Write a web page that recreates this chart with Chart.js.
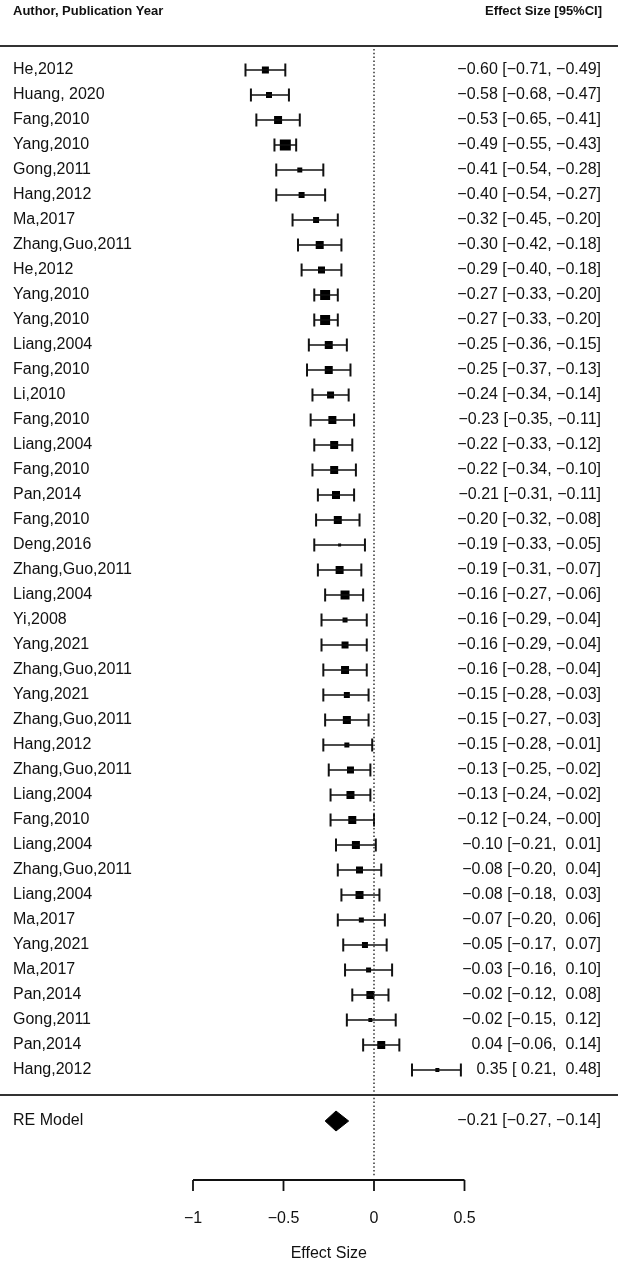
<!DOCTYPE html>
<html>
<head>
<meta charset="utf-8">
<title>Forest plot</title>
<script src="https://cdn.jsdelivr.net/npm/chart.js@4"></script>
<style>
  html, body { margin: 0; padding: 0; background: #fff; }
  #wrap { width: 618px; height: 1269px; }
</style>
</head>
<body>
<div id="wrap"><canvas id="forest"></canvas></div>
<script>
// study labels, top to bottom
const studies = [
  "He,2012", "Huang, 2020", "Fang,2010", "Yang,2010", "Gong,2011", "Hang,2012",
  "Ma,2017", "Zhang,Guo,2011", "He,2012", "Yang,2010", "Yang,2010", "Liang,2004",
  "Fang,2010", "Li,2010", "Fang,2010", "Liang,2004", "Fang,2010", "Pan,2014",
  "Fang,2010", "Deng,2016", "Zhang,Guo,2011", "Liang,2004", "Yi,2008", "Yang,2021",
  "Zhang,Guo,2011", "Yang,2021", "Zhang,Guo,2011", "Hang,2012", "Zhang,Guo,2011",
  "Liang,2004", "Fang,2010", "Liang,2004", "Zhang,Guo,2011", "Liang,2004",
  "Ma,2017", "Yang,2021", "Ma,2017", "Pan,2014", "Gong,2011", "Pan,2014", "Hang,2012"
];
const effect = [
  -0.60, -0.58, -0.53, -0.49, -0.41, -0.40, -0.32, -0.30, -0.29, -0.27, -0.27, -0.25,
  -0.25, -0.24, -0.23, -0.22, -0.22, -0.21, -0.20, -0.19, -0.19, -0.16, -0.16, -0.16,
  -0.16, -0.15, -0.15, -0.15, -0.13, -0.13, -0.12, -0.10, -0.08, -0.08, -0.07, -0.05,
  -0.03, -0.02, -0.02, 0.04, 0.35
];
const ciLow = [
  -0.71, -0.68, -0.65, -0.55, -0.54, -0.54, -0.45, -0.42, -0.40, -0.33, -0.33, -0.36,
  -0.37, -0.34, -0.35, -0.33, -0.34, -0.31, -0.32, -0.33, -0.31, -0.27, -0.29, -0.29,
  -0.28, -0.28, -0.27, -0.28, -0.25, -0.24, -0.24, -0.21, -0.20, -0.18, -0.20, -0.17,
  -0.16, -0.12, -0.15, -0.06, 0.21
];
const ciHigh = [
  -0.49, -0.47, -0.41, -0.43, -0.28, -0.27, -0.20, -0.18, -0.18, -0.20, -0.20, -0.15,
  -0.13, -0.14, -0.11, -0.12, -0.10, -0.11, -0.08, -0.05, -0.07, -0.06, -0.04, -0.04,
  -0.04, -0.03, -0.03, -0.01, -0.02, -0.02, -0, 0.01, 0.04, 0.03, 0.06, 0.07,
  0.10, 0.08, 0.12, 0.14, 0.48
];
// study weight, shown as square size
const weights = [
  7, 6, 8, 11, 5, 6, 6, 8, 7, 10, 10, 8, 8, 7, 8, 8, 8, 8, 8, 3, 8,
  9, 5, 7, 8, 6, 8, 5, 7, 8, 8, 8, 7, 8, 5, 6, 5, 8, 4, 8, 4
];
// pooled random-effects estimate
const pooledLabel = "RE Model";
const pooled = [-0.21, -0.27, -0.14];
const xTicks = [-1, -0.5, 0, 0.5];
const xTitle = "Effect Size";
const headLeft = "Author, Publication Year";
const headRight = "Effect Size [95%CI]";

// row layout (y in row units, 0 = first study)
const poolRow = 42.04;
const axisRow = 44.4;
const tickLen = 0.44;
const ink = "#111";

function fmt(v, pad) {
  const neg = v < 0 || Object.is(v, -0);
  return (neg ? "\u2212" : pad ? " " : "") + Math.abs(v).toFixed(2);
}
function ciText(e, lo, hi) {
  return fmt(e, false) + " [" + fmt(lo, true) + ", " + fmt(hi, true) + "]";
}

const xMin = -374 / 181;
const xMax = 244 / 181;

const datasets = [];

// null line, dotted
datasets.push({
  type: "line",
  data: [{ x: 0, y: -0.84 }, { x: 0, y: 44.28 }],
  borderColor: "#333",
  borderWidth: 1.5,
  borderDash: [1.5, 2.3],
  pointRadius: 0
});

// top and bottom rules
[-0.96, 41.0].forEach((r) => {
  datasets.push({
    type: "line",
    data: [{ x: xMin, y: r }, { x: xMax, y: r }],
    borderColor: "#333",
    borderWidth: 2,
    pointRadius: 0
  });
});

// confidence intervals with end caps
studies.forEach((s, i) => {
  datasets.push({
    type: "line",
    data: [{ x: ciLow[i], y: i }, { x: ciHigh[i], y: i }],
    borderColor: ink,
    borderWidth: 1.5,
    pointStyle: "line",
    rotation: 90,
    pointRadius: 6.5,
    pointBorderWidth: 2,
    pointBorderColor: ink
  });
});

// study squares
datasets.push({
  type: "scatter",
  data: effect.map((e, i) => ({ x: e, y: i })),
  pointStyle: "rect",
  pointRadius: weights.map((w) => w / Math.SQRT2),
  pointBorderWidth: 0,
  pointBackgroundColor: "#000",
  borderWidth: 0
});

// pooled diamond
datasets.push({
  type: "line",
  data: [
    { x: pooled[1], y: poolRow },
    { x: pooled[0], y: poolRow - 0.4 },
    { x: pooled[2], y: poolRow },
    { x: pooled[0], y: poolRow + 0.4 },
    { x: pooled[1], y: poolRow }
  ],
  borderColor: "#000",
  borderWidth: 1,
  backgroundColor: "#000",
  fill: "shape",
  tension: 0,
  pointRadius: 0
});

// x axis line and ticks
datasets.push({
  type: "line",
  data: [{ x: xTicks[0], y: axisRow }, { x: xTicks[xTicks.length - 1], y: axisRow }],
  borderColor: ink,
  borderWidth: 1.8,
  pointRadius: 0
});
xTicks.forEach((t) => {
  datasets.push({
    type: "line",
    data: [{ x: t, y: axisRow }, { x: t, y: axisRow + tickLen }],
    borderColor: ink,
    borderWidth: 1.8,
    pointRadius: 0
  });
});

const textPlugin = {
  id: "forestText",
  afterDatasetsDraw(chart) {
    const ctx = chart.ctx;
    const xs = chart.scales.x;
    const ys = chart.scales.y;
    const font = "'Liberation Sans', Arial, Helvetica, sans-serif";
    ctx.save();
    ctx.fillStyle = ink;
    ctx.textBaseline = "middle";

    ctx.font = "bold 13px " + font;
    ctx.textAlign = "left";
    ctx.fillText(headLeft, 13, ys.getPixelForValue(-2.36));
    ctx.textAlign = "right";
    ctx.fillText(headRight, 602, ys.getPixelForValue(-2.36));

    ctx.font = "16px " + font;
    studies.forEach((s, i) => {
      const y = ys.getPixelForValue(i);
      ctx.textAlign = "left";
      ctx.fillText(s, 13, y);
      ctx.textAlign = "right";
      ctx.fillText(ciText(effect[i], ciLow[i], ciHigh[i]), 601, y);
    });

    const py = ys.getPixelForValue(poolRow);
    ctx.textAlign = "left";
    ctx.fillText(pooledLabel, 13, py);
    ctx.textAlign = "right";
    ctx.fillText(ciText(pooled[0], pooled[1], pooled[2]), 601, py);

    ctx.textAlign = "center";
    xTicks.forEach((t) => {
      const lab = t < 0 ? "\u2212" + Math.abs(t) : String(t);
      ctx.fillText(lab, xs.getPixelForValue(t), ys.getPixelForValue(45.95));
    });
    const mid = (xTicks[0] + xTicks[xTicks.length - 1]) / 2;
    ctx.fillText(xTitle, xs.getPixelForValue(mid), ys.getPixelForValue(47.36));
    ctx.restore();
  }
};

new Chart(document.getElementById("forest"), {
  type: "line",
  data: { datasets: datasets },
  options: {
    responsive: true,
    maintainAspectRatio: false,
    animation: false,
    layout: { padding: 0, autoPadding: false },
    plugins: { legend: { display: false }, tooltip: { enabled: false } },
    scales: {
      x: { type: "linear", display: false, min: xMin, max: xMax },
      y: { type: "linear", display: false, reverse: true, min: -2.8, max: 47.96 }
    }
  },
  plugins: [textPlugin]
});
</script>
</body>
</html>
